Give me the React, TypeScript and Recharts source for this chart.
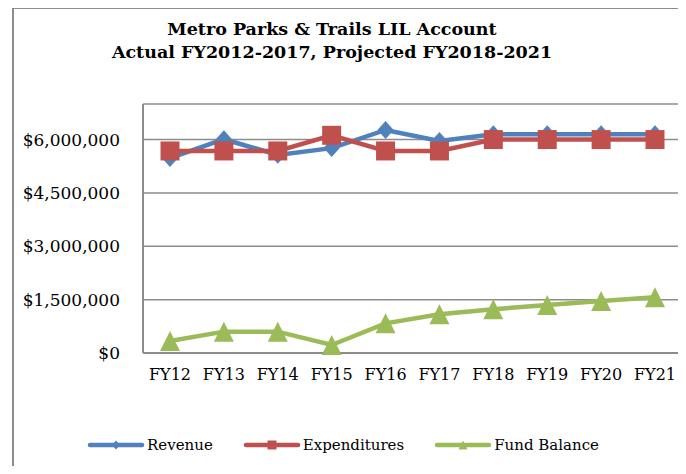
import React from "react";
import {
  LineChart,
  Line,
  XAxis,
  YAxis,
  CartesianGrid,
  Legend,
} from "recharts";

const years = ["FY12", "FY13", "FY14", "FY15", "FY16", "FY17", "FY18", "FY19", "FY20", "FY21"];
const revenue = [5480000, 6010000, 5570000, 5760000, 6270000, 5960000, 6150000, 6150000, 6150000, 6150000];
const expenditures = [5680000, 5680000, 5680000, 6120000, 5680000, 5680000, 6000000, 6000000, 6000000, 6000000];
const fundBalance = [337000, 600000, 600000, 225000, 834000, 1090000, 1230000, 1350000, 1460000, 1570000];
const yTicks = [0, 1500000, 3000000, 4500000, 6000000];

const data = years.map((year, i) => ({
  year,
  revenue: revenue[i],
  expenditures: expenditures[i],
  fundBalance: fundBalance[i],
}));

const FONT = "'DejaVu Serif', serif";
const GRID = "#8c8c8c";

const series = [
  { key: "revenue", name: "Revenue", color: "#4F81BD", shape: "diamond" },
  { key: "expenditures", name: "Expenditures", color: "#C0504D", shape: "square" },
  { key: "fundBalance", name: "Fund Balance", color: "#9BBB59", shape: "triangle" },
];

function markerPath(shape: string, cx: number, cy: number, r: number) {
  if (shape === "diamond") {
    return `M${cx},${cy - r}L${cx + r * 0.9},${cy}L${cx},${cy + r}L${cx - r * 0.9},${cy}Z`;
  }
  if (shape === "square") {
    return `M${cx - r},${cy - r}L${cx + r},${cy - r}L${cx + r},${cy + r}L${cx - r},${cy + r}Z`;
  }
  return `M${cx},${cy - r}L${cx + r},${cy + r}L${cx - r},${cy + r}Z`;
}

const makeDot = (shape: string, color: string, r: number) => (p: any) => {
  if (p.cx == null || p.cy == null) return <g key={p.index} />;
  return <path key={p.index} d={markerPath(shape, p.cx, p.cy, r)} fill={color} stroke="none" />;
};

const money = (v: number) => "$" + v.toLocaleString("en-US");

function LegendContent() {
  return (
    <div style={{ display: "flex", justifyContent: "center", alignItems: "center", gap: 30 }}>
      {series.map((s) => (
        <div key={s.key} style={{ display: "flex", alignItems: "center" }}>
          <svg width={58} height={14}>
            <line x1={3} y1={7} x2={55} y2={7} stroke={s.color} strokeWidth={4.5} strokeLinecap="round" />
            <path d={markerPath(s.shape, 29, 7, 4.5)} fill={s.color} />
          </svg>
          <span style={{ fontFamily: FONT, fontSize: 15, color: "#000", marginLeft: 2 }}>{s.name}</span>
        </div>
      ))}
    </div>
  );
}

export default function App() {
  return (
    <div style={{ position: "relative", width: 686, height: 474, margin: -8, overflow: "hidden", background: "#fff" }}>
      <div
        style={{
          position: "absolute",
          left: 12,
          top: 7,
          width: 670,
          height: 520,
          border: `2px solid ${GRID}`,
        }}
      />
      <div
        style={{
          position: "absolute",
          left: 13,
          top: 18,
          width: 638,
          textAlign: "center",
          fontFamily: FONT,
          fontWeight: "bold",
          fontSize: 17.5,
          lineHeight: "23px",
          color: "#000",
        }}
      >
        Metro Parks &amp; Trails LIL Account
        <br />
        Actual FY2012-2017, Projected FY2018-2021
      </div>
      <div style={{ position: "absolute", left: 0, top: 0 }}>
        <LineChart width={686} height={474} data={data} margin={{ top: 104, right: 4, left: 0, bottom: 91 }}>
          <CartesianGrid vertical={false} stroke={GRID} strokeWidth={1.5} />
          <XAxis
            dataKey="year"
            height={30}
            padding={{ left: 27, right: 27 }}
            axisLine={{ stroke: GRID, strokeWidth: 2 }}
            tickLine={false}
            tickSize={0}
            tickMargin={16}
            tick={{ fontFamily: FONT, fontSize: 16, fill: "#000" }}
            interval={0}
          />
          <YAxis
            width={143}
            domain={[0, 7000000]}
            ticks={yTicks}
            tickFormatter={money}
            axisLine={{ stroke: GRID, strokeWidth: 2 }}
            tickLine={false}
            tickSize={0}
            tickMargin={23}
            tick={{ fontFamily: FONT, fontSize: 17, fill: "#000" }}
            interval={0}
          />
          {series.map((s) => (
            <Line
              key={s.key}
              dataKey={s.key}
              name={s.name}
              stroke={s.color}
              strokeWidth={4.5}
              type="linear"
              dot={makeDot(s.shape, s.color, s.shape === "square" ? 9.5 : s.shape === "triangle" ? 10 : 9)}
              activeDot={false}
              isAnimationActive={false}
            />
          ))}
          <Legend
            verticalAlign="middle"
            content={<LegendContent />}
            wrapperStyle={{ top: 436, left: 0, width: 686 }}
          />
        </LineChart>
      </div>
    </div>
  );
}
